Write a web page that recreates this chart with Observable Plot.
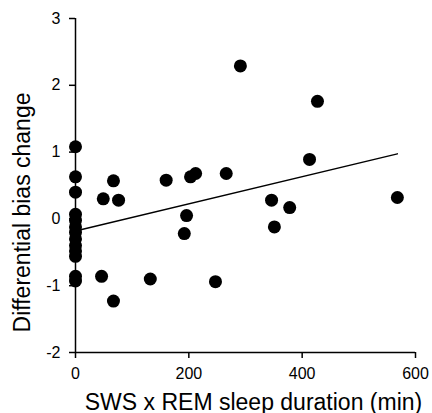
<!DOCTYPE html>
<html>
<head>
<meta charset="utf-8">
<script src="https://cdn.jsdelivr.net/npm/d3@7"></script>
<script src="https://cdn.jsdelivr.net/npm/@observablehq/plot@0.6"></script>
<style>
  html, body { margin: 0; padding: 0; background: #fff; }
  #chart svg { display: block; }
  g[aria-label="y-title"] text { letter-spacing: 0.8px; }
</style>
</head>
<body>
<div id="chart"></div>
<script>
// SWS x REM sleep duration (min)
const duration = [
  0, 0, 0, 0, 0, 0, 0, 0, 0, 0, 0, 0, 0,
  49, 76, 67, 160, 203, 212, 196, 192, 46, 132, 67, 247,
  291, 427, 413, 266, 346, 378, 351, 568
];
// Differential bias change
const biasChange = [
  1.08, 0.63, 0.40, 0.07, -0.02, -0.12, -0.20, -0.30, -0.40, -0.48, -0.56, -0.86, -0.93,
  0.30, 0.28, 0.57, 0.58, 0.63, 0.68, 0.05, -0.22, -0.86, -0.90, -1.23, -0.94,
  2.29, 1.76, 0.89, 0.68, 0.28, 0.17, -0.12, 0.32
];
const xTicks = [0, 200, 400, 600];
const yTicks = [-2, -1, 0, 1, 2, 3];
const xTitle = "SWS x REM sleep duration (min)";
const yTitle = "Differential bias change";

const data = duration.map((d, i) => ({x: d, y: biasChange[i]}));
const fmt = d => String(d);

const chart = Plot.plot({
  width: 432,
  height: 413,
  marginLeft: 75,
  marginRight: 17,
  marginTop: 18,
  marginBottom: 61,
  style: {fontFamily: "'Liberation Sans', Arial, Helvetica, sans-serif", fontSize: "16px", color: "#000", background: "#fff"},
  x: {domain: [0, 600]},
  y: {domain: [-2, 3]},
  marks: [
    Plot.axisX({ticks: xTicks, tickFormat: fmt, tickSize: 6, tickPadding: 9, label: null, fontSize: 16, strokeWidth: 1.5}),
    Plot.axisY({ticks: yTicks, tickFormat: fmt, tickSize: 6, tickPadding: 9, label: null, fontSize: 16, strokeWidth: 1.5}),
    Plot.ruleX([0], {y1: -2, y2: 3, strokeWidth: 1.5}),
    Plot.ruleY([-2], {x1: 0, x2: 600, strokeWidth: 1.5}),
    Plot.linearRegressionY(data, {x: "x", y: "y", ci: 0, stroke: "#000", strokeWidth: 1.5}),
    Plot.dot(data, {x: "x", y: "y", r: 6.5, fill: "#000", stroke: "none"}),
    Plot.text([xTitle], {frameAnchor: "bottom", textAnchor: "middle", lineAnchor: "bottom", dx: 8, dy: 57, fontSize: 23, fill: "#000"}),
    Plot.text([yTitle], {frameAnchor: "left", textAnchor: "middle", lineAnchor: "bottom", rotate: -90, dx: -46, dy: 27, fontSize: 23, fill: "#000", ariaLabel: "y-title"})
  ]
});
document.getElementById("chart").appendChild(chart);
</script>
</body>
</html>
